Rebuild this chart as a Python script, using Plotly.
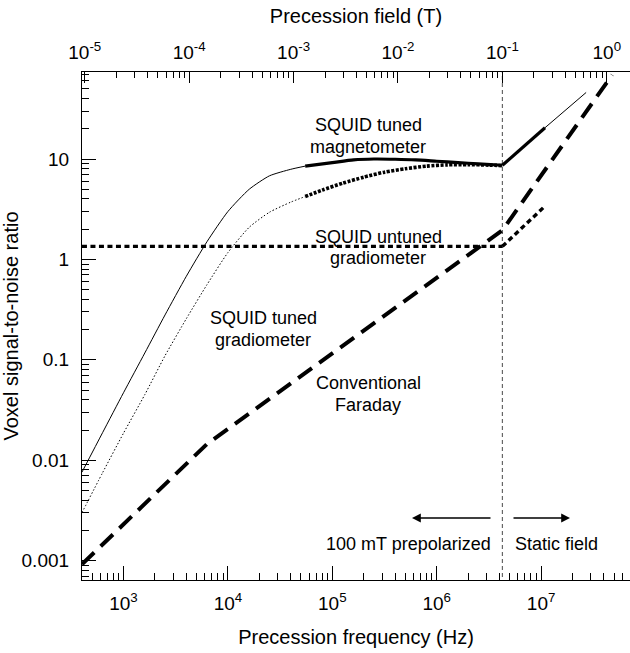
import math
import plotly.graph_objects as go

GAMMA = 42.58e6  # proton gyromagnetic ratio, Hz per tesla

# ---- data ----
# SQUID tuned magnetometer
mag_lo_f = [400, 630, 1000, 1600, 2500, 4000, 6300, 10000, 16000, 25000, 40000, 55000]
mag_lo_v = [0.0076, 0.0188, 0.047, 0.117, 0.28, 0.68, 1.5, 3.0, 5.0, 6.8, 7.9, 8.5]
mag_mid_f = [55000, 100000, 160000, 250000, 400000, 630000, 1e6, 1.6e6, 2.5e6, 4.26e6]
mag_mid_v = [8.5, 9.2, 9.8, 10.0, 9.95, 9.8, 9.5, 9.2, 8.95, 8.67]
mag_static_f = [4.26e6, 1.09e7]
mag_static_v = [8.67, 20.5]
mag_ext_f = [1.09e7, 2.7e7]
mag_ext_v = [20.5, 46]

# SQUID tuned gradiometer
grad_lo_f = [400, 630, 1000, 1600, 2500, 4000, 6300, 10000, 16000, 25000, 40000, 55000]
grad_lo_v = [0.0030, 0.0075, 0.0186, 0.045, 0.11, 0.257, 0.56, 1.17, 2.09, 2.95, 3.72, 4.23]
grad_hi_f = [55000, 80000, 126000, 200000, 316000, 500000, 800000, 1.26e6, 2e6, 3.16e6, 4.26e6]
grad_hi_v = [4.23, 4.9, 5.75, 6.6, 7.4, 8.0, 8.5, 8.75, 8.8, 8.7, 8.6]

# SQUID untuned gradiometer
untuned_f = [400, 4.26e6]
untuned_v = [1.35, 1.35]
untuned_static_f = [4.26e6, 1.09e7]
untuned_static_v = [1.35, 3.4]

# Conventional Faraday
faraday_f = [400, 6300, 4.26e6, 4.8e7]
faraday_v = [0.00092, 0.0145, 1.95, 69]

# 100 mT boundary
boundary_f = [4.26e6, 4.26e6]
boundary_v = [1e-4, 1e3]

x_ticks = [1e3, 1e4, 1e5, 1e6, 1e7]
x_ticktext = ["10<sup>3</sup>", "10<sup>4</sup>", "10<sup>5</sup>", "10<sup>6</sup>", "10<sup>7</sup>"]
b_ticks = [1e-5, 1e-4, 1e-3, 1e-2, 1e-1, 1e0]
b_ticktext = ["10<sup>-5</sup>", "10<sup>-4</sup>", "10<sup>-3</sup>", "10<sup>-2</sup>", "10<sup>-1</sup>", "10<sup>0</sup>"]
y_ticks = [0.001, 0.01, 0.1, 1, 10]
y_ticktext = ["0.001", "0.01", "0.1", "1", "10"]

# ---- geometry ----
W, H = 630, 653
L, R, T, B = 82, 0, 72, 73
pw, ph = W - L - R, H - T - B
def px(x):
    return (x - L) / pw
def py(y):
    return 1 - (y - T) / ph

xr = [2.6025, 2.6025 + pw / 104.4]
yr = [-3.193, -3.193 + ph / 100.4]
x2r = [xr[0] - math.log10(GAMMA), xr[1] - math.log10(GAMMA)]

def minors(lo, hi):
    out = []
    for e in range(lo, hi + 1):
        for d in range(2, 10):
            out.append(d * 10.0 ** e)
    return out

FONT = "Liberation Sans, Arial, Helvetica, sans-serif"
BLK = "black"

fig = go.Figure()

def line(xs, ys, width, dash="solid", color=BLK, smooth=False):
    ld = dict(color=color, width=width, dash=dash)
    if smooth:
        ld.update(shape="spline", smoothing=0.6)
    fig.add_trace(go.Scatter(x=xs, y=ys, mode="lines", line=ld,
                             hoverinfo="skip", showlegend=False))

line(boundary_f, boundary_v, 1.2, "4px,3px", "#666666")
line(faraday_f, faraday_v, 4, "17px,9px")
line(untuned_f, untuned_v, 3.4, "5px,3.5px")
line(untuned_static_f, untuned_static_v, 3.4, "5px,3.5px")
line(grad_lo_f, grad_lo_v, 1, "1.5px,2px", smooth=True)
line(grad_hi_f, grad_hi_v, 3.6, "3px,1.5px", smooth=True)
line(mag_lo_f, mag_lo_v, 1, smooth=True)
line(mag_mid_f, mag_mid_v, 3.2, smooth=True)
line(mag_static_f, mag_static_v, 3.2)
line(mag_ext_f, mag_ext_v, 1)

# dummy trace so the top axis is drawn
fig.add_trace(go.Scatter(x=[1e-3], y=[1], xaxis="x2", mode="markers",
                         marker=dict(opacity=0), hoverinfo="skip", showlegend=False))

annots = []
def text(x, y, s, size=18, xanchor="center"):
    annots.append(dict(x=px(x), y=py(y), xref="paper", yref="paper", text=s,
                       showarrow=False, xanchor=xanchor, yanchor="middle",
                       font=dict(family=FONT, size=size, color=BLK)))

text(368, 125, "SQUID tuned")
text(368, 147, "magnetometer")
text(378, 237, "SQUID untuned")
text(378, 258, "gradiometer")
text(263, 318, "SQUID tuned")
text(263, 340, "gradiometer")
text(368, 383, "Conventional")
text(368, 405, "Faraday")
text(408, 544, "100 mT prepolarized")
text(556, 544, "Static field")

def arrow(x_head, x_tail, y):
    annots.append(dict(x=px(x_head), y=py(y), xref="paper", yref="paper", text="",
                       showarrow=True, ax=x_tail - x_head, ay=0, axref="pixel", ayref="pixel",
                       arrowhead=2, arrowsize=1.1, arrowwidth=1.6, arrowcolor=BLK))

arrow(412, 492, 518)
arrow(570, 512, 518)

axis_common = dict(type="log", showgrid=False, zeroline=False, showline=True,
                   linecolor=BLK, linewidth=1.2, ticks="inside", tickcolor=BLK,
                   tickwidth=1.2, tickfont=dict(family=FONT, size=19, color=BLK))

fig.update_layout(
    width=W, height=H, margin=dict(l=L, r=R, t=T, b=B, pad=0),
    paper_bgcolor="white", plot_bgcolor="white", showlegend=False,
    annotations=annots,
    xaxis=dict(**axis_common, range=xr, tickmode="array", tickvals=x_ticks,
               ticktext=x_ticktext, ticklen=14, ticklabelstandoff=6,
               minor=dict(tickmode="array", tickvals=minors(2, 7), ticks="inside",
                          ticklen=7, tickcolor=BLK, tickwidth=1.2, showgrid=False),
               title=dict(text="Precession frequency (Hz)", standoff=17,
                          font=dict(family=FONT, size=20, color=BLK))),
    xaxis2=dict(**axis_common, range=x2r, overlaying="x", side="top", anchor="y",
                tickmode="array", tickvals=b_ticks, ticktext=b_ticktext, ticklen=11,
                ticklabelstandoff=4,
                minor=dict(tickmode="array", tickvals=minors(-6, 0), ticks="inside",
                           ticklen=6, tickcolor=BLK, tickwidth=1.2, showgrid=False),
                title=dict(text="Precession field (T)", standoff=10,
                           font=dict(family=FONT, size=20, color=BLK))),
    yaxis=dict(**axis_common, range=yr, tickmode="array", tickvals=y_ticks,
               ticktext=y_ticktext, ticklen=14, ticklabelstandoff=8,
               minor=dict(tickmode="array", tickvals=minors(-4, 1), ticks="inside",
                          ticklen=7, tickcolor=BLK, tickwidth=1.2, showgrid=False),
               title=dict(text="Voxel signal-to-noise ratio", standoff=7,
                          font=dict(family=FONT, size=20, color=BLK))),
)

fig.write_html("out.html")
